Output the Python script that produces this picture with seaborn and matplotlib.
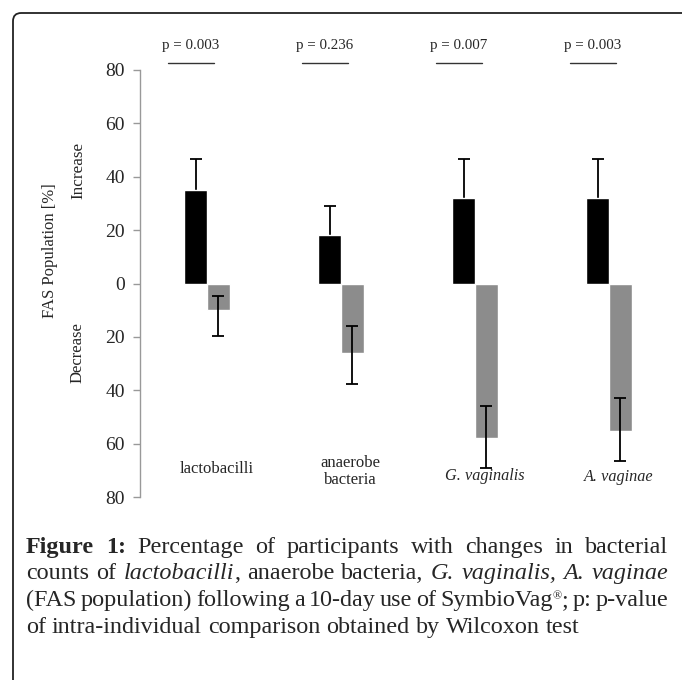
import matplotlib
matplotlib.use("Agg")
import matplotlib.pyplot as plt
import seaborn as sns
import pandas as pd
from matplotlib.patches import FancyBboxPatch

# ── Data ──────────────────────────────────────────────────────────────────────
groups = ["lactobacilli", "anaerobe\nbacteria", "G. vaginalis", "A. vaginae"]
group_italic = [False, False, True, True]
p_values = ["p = 0.003", "p = 0.236", "p = 0.007", "p = 0.003"]

increase = [35, 18, 32, 32]
increase_err_top = [46.5, 29, 46.5, 46.5]
decrease = [10, 26, 58, 55.3]
decrease_err_lo = [4.5, 16, 46, 43]
decrease_err_hi = [19.5, 37.5, 69, 66.5]

y_ticks = [-80, -60, -40, -20, 0, 20, 40, 60, 80]
label_y = [-69.5, -70.5, -72, -72.5]   # where each category name sits

df = pd.DataFrame({
    "group": list(range(len(groups))) * 2,
    "direction": ["Increase"] * len(groups) + ["Decrease"] * len(groups),
    "value": increase + [-v for v in decrease],
})

# ── Figure ────────────────────────────────────────────────────────────────────
sns.set_style("white")
plt.rcParams["font.family"] = ["Liberation Serif", "DejaVu Serif"]

fig = plt.figure(figsize=(6.82, 6.80), dpi=100)
ax = fig.add_axes([140 / 682, 1 - 497 / 680, 536 / 682, 427 / 680])

sns.barplot(data=df, x="group", y="value", hue="direction",
            hue_order=["Increase", "Decrease"], palette=["#000000", "#8c8c8c"],
            width=0.34, errorbar=None, legend=False, saturation=1, ax=ax,
            zorder=2)

inc_bars, dec_bars = ax.containers[0], ax.containers[1]
for i, (pi, pd_) in enumerate(zip(inc_bars, dec_bars)):
    xi = pi.get_x() + pi.get_width() / 2
    xd = pd_.get_x() + pd_.get_width() / 2
    # upper whisker only; the lower part stays hidden behind the black bar
    ax.errorbar(xi, increase[i],
                yerr=[[increase[i] / 2], [increase_err_top[i] - increase[i]]],
                color="black", lw=1.3, capsize=4, capthick=1.3, zorder=1)
    mid = -(decrease_err_lo[i] + decrease_err_hi[i]) / 2
    half = (decrease_err_hi[i] - decrease_err_lo[i]) / 2
    ax.errorbar(xd, mid, yerr=half, color="black", lw=1.3,
                capsize=4, capthick=1.3, zorder=3)

ax.set_xlim(-0.5, 3.5)
ax.set_ylim(-80, 80)
ax.set_yticks(y_ticks)
ax.set_yticklabels([str(abs(t)) for t in y_ticks], fontsize=14)
ax.tick_params(axis="y", left=True, length=5, width=1, color="#999999", pad=6)
ax.set_xticks([])
ax.set_xlabel("")
ax.set_ylabel("")
for s in ["top", "right", "bottom"]:
    ax.spines[s].set_visible(False)
ax.spines["left"].set_color("#999999")
ax.spines["left"].set_linewidth(1)

# category labels inside the plot
for i, (name, it) in enumerate(zip(groups, group_italic)):
    ax.text(i + 0.07, label_y[i], name, ha="center", va="center",
            fontsize=12 if not it else 11.7,
            style="italic" if it else "normal", linespacing=1.1)

# p-values above
for i, p in enumerate(p_values):
    ax.text(i - 0.12, 89, p, ha="center", va="center", fontsize=10.8,
            clip_on=False)
    ax.plot([i - 0.29, i + 0.05], [82.5, 82.5], color="#333333", lw=1,
            clip_on=False)

# y labels
fig.text(50 / 682, 1 - 251 / 680, "FAS Population [%]", rotation=90,
         ha="center", va="center", fontsize=12)
fig.text(78 / 682, 1 - 170 / 680, "Increase", rotation=90,
         ha="center", va="center", fontsize=12.3)
fig.text(78 / 682, 1 - 353 / 680, "Decrease", rotation=90,
         ha="center", va="center", fontsize=12)

# frame (open on the right and bottom)
fig.patches.append(FancyBboxPatch((13 / 682, -1), 3, 1 + 1 - 13 / 680,
                                  boxstyle="round,pad=0,rounding_size=0.012",
                                  transform=fig.transFigure, fill=False,
                                  edgecolor="#222222", lw=1.3))

# ── Caption (justified) ──────────────────────────────────────────────────────
cap_lines = [
    [[("Figure", "bold", "normal")], [("1:", "bold", "normal")],
     [("Percentage", "normal", "normal")], [("of", "normal", "normal")],
     [("participants", "normal", "normal")], [("with", "normal", "normal")],
     [("changes", "normal", "normal")], [("in", "normal", "normal")],
     [("bacterial", "normal", "normal")]],
    [[("counts", "normal", "normal")], [("of", "normal", "normal")],
     [("lactobacilli", "normal", "italic"), (",", "normal", "normal")],
     [("anaerobe", "normal", "normal")], [("bacteria,", "normal", "normal")],
     [("G.", "normal", "italic")], [("vaginalis,", "normal", "italic")],
     [("A.", "normal", "italic")], [("vaginae", "normal", "italic")]],
    [[("(FAS", "normal", "normal")], [("population)", "normal", "normal")],
     [("following", "normal", "normal")], [("a", "normal", "normal")],
     [("10-day", "normal", "normal")], [("use", "normal", "normal")],
     [("of", "normal", "normal")],
     [("SymbioVag", "normal", "normal"), ("®", "sup", "normal"),
      (";", "normal", "normal")],
     [("p:", "normal", "normal")], [("p-value", "normal", "normal")]],
    [[("of", "normal", "normal")], [("intra-individual", "normal", "normal")],
     [("comparison", "normal", "normal")], [("obtained", "normal", "normal")],
     [("by", "normal", "normal")], [("Wilcoxon", "normal", "normal")],
     [("test", "normal", "normal")]],
]
cap_y = [547, 573, 600, 627]
cap_left, cap_right = 26, 668
cap_size = 17.4

fig.canvas.draw()
renderer = fig.canvas.get_renderer()


def make_piece(txt, kind, style):
    size = cap_size * 0.5 if kind == "sup" else cap_size
    weight = "bold" if kind == "bold" else "normal"
    t = fig.text(0, 0, txt, fontsize=size, fontweight=weight, style=style,
                 ha="left", va="baseline", transform=None)
    w = t.get_window_extent(renderer).width
    return t, w, kind


a_sp = make_piece("a a", "normal", "normal")
a_no = make_piece("aa", "normal", "normal")
sp = a_sp[1] - a_no[1]
a_sp[0].remove()
a_no[0].remove()

H = fig.get_figheight() * fig.dpi
for li, line in enumerate(cap_lines):
    words = []
    for word in line:
        pieces = [make_piece(*pc) for pc in word]
        words.append((pieces, sum(p[1] for p in pieces)))
    total = sum(w for _, w in words)
    if li < len(cap_lines) - 1:
        gap = (cap_right - cap_left - total) / (len(words) - 1)
    else:
        gap = sp
    x = cap_left
    base = H - cap_y[li] - 6
    for pieces, w in words:
        for t, pw, kind in pieces:
            t.set_position((x, base + (7 if kind == "sup" else 0)))
            x += pw
        x += gap

fig.savefig("out.png", dpi=100)
